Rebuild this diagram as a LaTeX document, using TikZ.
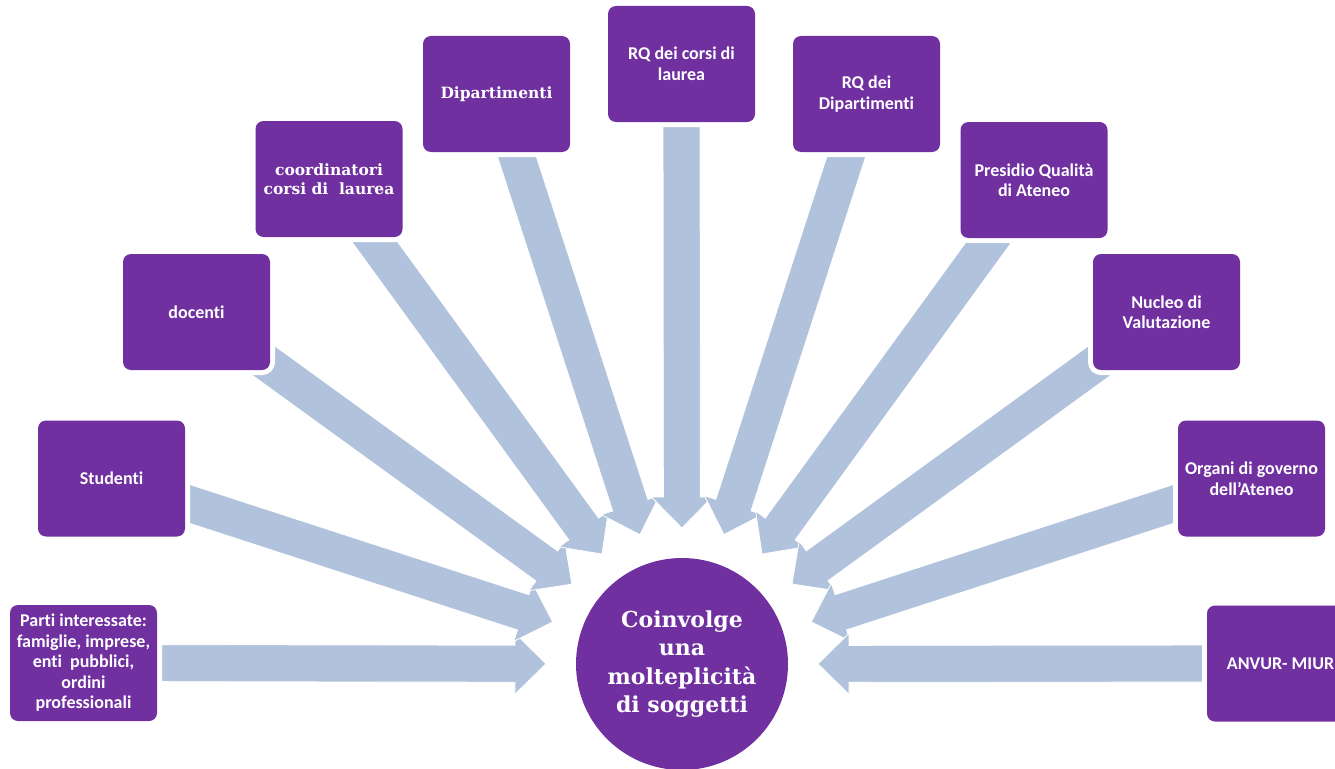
\documentclass[tikz,border=0pt]{standalone}
\usepackage{fontspec}
\setmainfont{Carlito}[Ligatures={NoCommon}]
\newfontfamily\dvserif{DejaVu Serif}[BoldFont={DejaVu Serif Bold}]
\usetikzlibrary{calc,backgrounds}
\definecolor{boxpurple}{RGB}{112,48,160}
\definecolor{arrowblue}{RGB}{177,194,220}
\tikzset{
  stakeholder/.style={rectangle, rounded corners=8pt, fill=boxpurple, text=white,
    minimum width=147pt, minimum height=116pt, inner sep=2pt, align=center,
    font=\fontsize{18}{20.5}\selectfont\bfseries,
    preaction={draw=white, line width=10pt}},
  serifbox/.style={font=\dvserif\fontsize{15.5}{19}\selectfont\bfseries},
  hub/.style={circle, fill=boxpurple, text=white, minimum size=212pt, inner sep=0pt,
    align=center, font=\dvserif\fontsize{22}{28.5}\selectfont\bfseries},
  blockarrow/.style={fill=arrowblue, draw=white, line width=0.8pt, line join=miter},
}
\newcommand\myblockarrow[2]{%
  \coordinate (tl) at (#1.center);
  \coordinate (tp) at ($(#2.center)!136pt!(tl)$);
  \coordinate (hb) at ($(#2.center)!167pt!(tl)$);
  \path[blockarrow]
    ($(tl)!18.5pt!90:(tp)$) -- ($(hb)!18.5pt!-90:(tl)$) -- ($(hb)!30.5pt!-90:(tl)$)
    -- (tp) -- ($(hb)!30.5pt!90:(tl)$) -- ($(hb)!18.5pt!90:(tl)$)
    -- ($(tl)!18.5pt!-90:(tp)$) -- cycle;
}
\begin{document}
\begin{tikzpicture}[x=1pt,y=-1pt]
\useasboundingbox (0,0) rectangle (1335,768);
\node[hub] (hub) at (682,664) {Coinvolge\\una\\molteplicità\\di soggetti};
\node[stakeholder] (parti) at (83.5,663) {Parti interessate:\\famiglie, imprese,\\enti~ pubblici,\\ordini\\professionali};
\node[stakeholder] (stud) at (111.5,478.5) {Studenti};
\node[stakeholder] (doc) at (196.5,312) {docenti};
\node[stakeholder, serifbox] (coord) at (329,179) {coordinatori\\corsi di~ laurea};
\node[stakeholder, serifbox] (dip) at (496.5,94) {Dipartimenti};
\node[stakeholder] (rqcl) at (681.5,64) {RQ dei corsi di\\laurea};
\node[stakeholder] (rqd) at (866.5,94) {RQ dei\\Dipartimenti};
\node[stakeholder] (pqa) at (1034,180) {Presidio Qualità\\di Ateneo};
\node[stakeholder] (ndv) at (1166.5,312) {Nucleo di\\Valutazione};
\node[stakeholder] (org) at (1251.5,478.5) {Organi di governo\\dell’Ateneo};
\node[stakeholder] (anvur) at (1280.5,663.5) {ANVUR- MIUR};
\begin{scope}[on background layer]
  \foreach \b in {parti,stud,doc,coord,dip,rqcl,rqd,pqa,ndv,org,anvur}{\myblockarrow{\b}{hub}}
\end{scope}
\end{tikzpicture}
\end{document}
